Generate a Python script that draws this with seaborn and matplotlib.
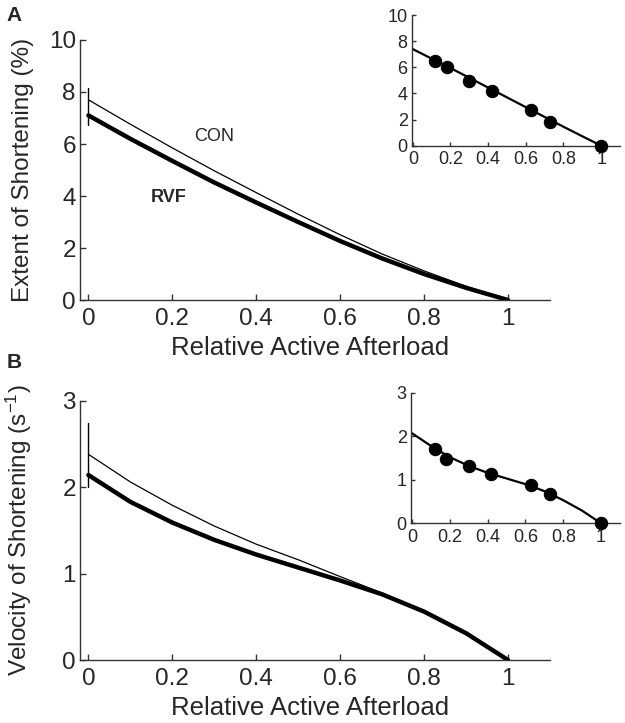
# shortening vs relative afterload, CON vs RVF
import numpy as np
import pandas as pd
import matplotlib
matplotlib.use('Agg')
import matplotlib.pyplot as plt
import seaborn as sns

sns.set_style('ticks')
plt.rcParams['font.family'] = ['Liberation Sans', 'DejaVu Sans']
plt.rcParams['mathtext.default'] = 'regular'
plt.rcParams['xtick.direction'] = 'in'
plt.rcParams['ytick.direction'] = 'in'

# data
afterload = [0, 0.1, 0.2, 0.3, 0.4, 0.5, 0.6, 0.7, 0.8, 0.9, 1.0]
ext_con = [7.7, 6.76, 5.85, 4.97, 4.13, 3.3, 2.51, 1.77, 1.12, 0.53, 0]
ext_rvf = [7.1, 6.2, 5.35, 4.52, 3.75, 3.0, 2.27, 1.6, 1.0, 0.47, 0]
vel_con = [2.38, 2.06, 1.79, 1.55, 1.34, 1.16, 0.965, 0.775, 0.56, 0.31, 0]
vel_rvf = [2.14, 1.83, 1.59, 1.39, 1.22, 1.07, 0.92, 0.76, 0.56, 0.31, 0]
ext_err = [6.73, 8.15]
vel_err = [2.0, 2.74]

# inset data
pts_x = [0.12, 0.18, 0.30, 0.42, 0.63, 0.73, 1.0]
pts_ext = [6.5, 6.05, 4.95, 4.18, 2.73, 1.84, 0]
pts_vel = [1.70, 1.48, 1.31, 1.14, 0.88, 0.67, 0]
fit_x = [0, 0.1, 0.2, 0.3, 0.4, 0.5, 0.6, 0.7, 0.8, 0.9, 1.0]
fit_ext = [7.4, 6.67, 5.95, 5.2, 4.45, 3.7, 2.95, 2.2, 1.45, 0.72, 0]
fit_vel = [2.07, 1.78, 1.52, 1.32, 1.16, 1.03, 0.9, 0.74, 0.53, 0.29, 0]

main_df = pd.DataFrame({'x': afterload, 'ext_con': ext_con, 'ext_rvf': ext_rvf,
                        'vel_con': vel_con, 'vel_rvf': vel_rvf})
pts_df = pd.DataFrame({'x': pts_x, 'ext': pts_ext, 'vel': pts_vel})
fit_df = pd.DataFrame({'x': fit_x, 'ext': fit_ext, 'vel': fit_vel})

fig = plt.figure(figsize=(6.25, 7.23), dpi=100)

spine_col = '#333333'


def style_axes(ax, fs, ticklen):
    sns.despine(ax=ax)
    for s in ['left', 'bottom']:
        ax.spines[s].set_color(spine_col)
        ax.spines[s].set_linewidth(1.0)
    ax.tick_params(labelsize=fs, length=ticklen, width=1, color=spine_col)
    ax.tick_params(axis='y', pad=3)
    ax.tick_params(axis='x', pad=6)
    ax.set_facecolor('none')


def main_panel(rect, ycon, yrvf, err, ylim, yticks, ylabel):
    ax = fig.add_axes(rect)
    sns.lineplot(data=main_df, x='x', y=ycon, ax=ax, color='black', linewidth=0.9)
    sns.lineplot(data=main_df, x='x', y=yrvf, ax=ax, color='black', linewidth=3.2)
    ax.plot([0, 0], err, color='black', linewidth=1.0)
    ax.set_xlim(-0.02, 1.1)
    ax.set_ylim(ylim)
    ax.set_xticks([0, 0.2, 0.4, 0.6, 0.8, 1])
    ax.set_xticklabels(['0', '0.2', '0.4', '0.6', '0.8', '1'])
    ax.set_yticks(yticks)
    ax.set_xlabel('Relative Active Afterload', fontsize=18.5)
    ax.set_ylabel(ylabel, fontsize=17.5)
    style_axes(ax, 17.5, 4)
    ax.xaxis.set_label_coords(0.49, -0.14)
    ax.yaxis.set_label_coords(-0.097, 0.5)
    return ax


def inset_panel(rect, ycol, ylim, yticks):
    ax = fig.add_axes(rect)
    sns.lineplot(data=fit_df, x='x', y=ycol, ax=ax, color='black', linewidth=1.6)
    sns.scatterplot(data=pts_df, x='x', y=ycol, ax=ax, color='black', s=80,
                    edgecolor='black', zorder=3, clip_on=False)
    ax.set_xlim(-0.005, 1.1)
    ax.set_ylim(ylim)
    ax.set_xticks([0, 0.2, 0.4, 0.6, 0.8, 1])
    ax.set_xticklabels(['0', '0.2', '0.4', '0.6', '0.8', '1'])
    ax.set_yticks(yticks)
    ax.set_xlabel('')
    ax.set_ylabel('')
    style_axes(ax, 13, 3)
    ax.tick_params(axis='x', pad=4)
    return ax


axA = main_panel([0.128, 0.585, 0.752, 0.3597], 'ext_con', 'ext_rvf', ext_err,
                 (0, 10), [0, 2, 4, 6, 8, 10], 'Extent of Shortening (%)')
axA.text(0.30, 6.3, 'CON', fontsize=13, ha='center', va='center')
axA.text(0.19, 3.96, 'RVF', fontsize=13, fontweight='bold', ha='center', va='center')

axB = main_panel([0.128, 0.0871, 0.752, 0.3587], 'vel_con', 'vel_rvf', vel_err,
                 (0, 3), [0, 1, 2, 3], 'Velocity of Shortening (s$^{-1}$)')

inset_panel([0.659, 0.7985, 0.333, 0.1805], 'ext', (0, 10), [0, 2, 4, 6, 8, 10])
inset_panel([0.6576, 0.2762, 0.3344, 0.1806], 'vel', (0, 3), [0, 1, 2, 3])

fig.text(0.011, 0.979, 'A', fontsize=15, fontweight='bold', ha='left', va='center')
fig.text(0.011, 0.498, 'B', fontsize=15, fontweight='bold', ha='left', va='center')

plt.savefig('out.png', dpi=100)
plt.close()
